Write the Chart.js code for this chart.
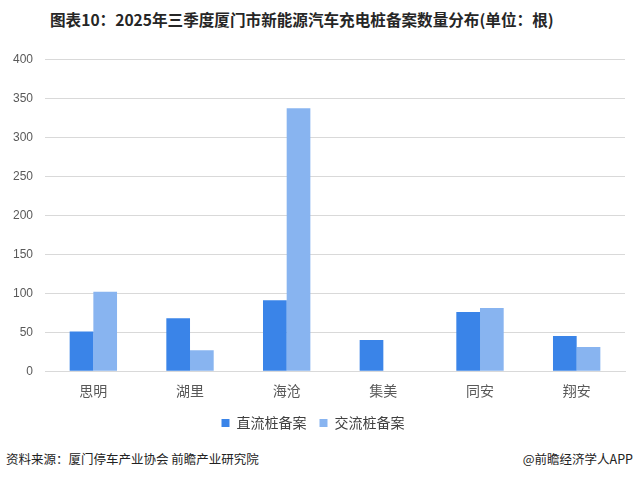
<!DOCTYPE html>
<html><head><meta charset="utf-8">
<script src="https://cdn.jsdelivr.net/npm/chart.js@4"></script>
<style>
html,body{margin:0;padding:0;background:#fff;width:633px;height:479px;overflow:hidden;font-family:"Noto Sans CJK SC",sans-serif;}
#title{position:absolute;left:50px;top:8px;white-space:nowrap;font-size:15.6px;font-weight:bold;color:#262626;}
#wrap{position:absolute;left:0;top:40px;width:633px;height:400px;}
#src{position:absolute;left:6px;top:449px;font-size:12.5px;color:#222;}
#app{position:absolute;right:0;top:449px;font-size:12.5px;color:#222;}
</style></head><body>
<div id="title">图表10：2025年三季度厦门市新能源汽车充电桩备案数量分布(单位：根)</div>
<div id="wrap"><canvas id="c"></canvas></div>
<div id="src">资料来源：厦门停车产业协会 前瞻产业研究院</div>
<div id="app">@前瞻经济学人APP</div>
<script>
const categories = ["思明","湖里","海沧","集美","同安","翔安"];
const dcValues = [51, 68, 91, 40, 76, 45];
const acValues = [102, 27, 337, 0, 81, 31];
const seriesNames = ["直流桩备案","交流桩备案"];

new Chart(document.getElementById('c'), {
  type: 'bar',
  data: {
    labels: categories,
    datasets: [
      {label: seriesNames[0], data: dcValues, backgroundColor: '#3A84E8', borderWidth: 0},
      {label: seriesNames[1], data: acValues, backgroundColor: '#88B4F0', borderWidth: 0}
    ]
  },
  options: {
    responsive: true, maintainAspectRatio: false, animation: false,
    layout: {padding: {left: 1, right: 8, top: 14, bottom: 0}},
    datasets: {bar: {categoryPercentage: 0.49, barPercentage: 1}},
    scales: {
      x: {
        grid: {display: false},
        border: {color: '#d9d9d9', width: 1},
        ticks: {color: '#595959', font: {size: 14, family: '"Noto Sans CJK SC"'}, padding: 3.5}
      },
      y: {
        min: 0, max: 400,
        ticks: {stepSize: 50, color: '#595959', font: {size: 12, family: '"Liberation Sans"'}, padding: 12},
        grid: {color: '#d9d9d9', drawTicks: false},
        border: {display: false}
      }
    },
    plugins: {
      legend: {
        position: 'bottom',
        labels: {boxWidth: 8, boxHeight: 8, color: '#404040', font: {size: 14, family: '"Noto Sans CJK SC"'}, padding: 13}
      },
      tooltip: {enabled: false}
    }
  }
});
</script>
</body></html>
